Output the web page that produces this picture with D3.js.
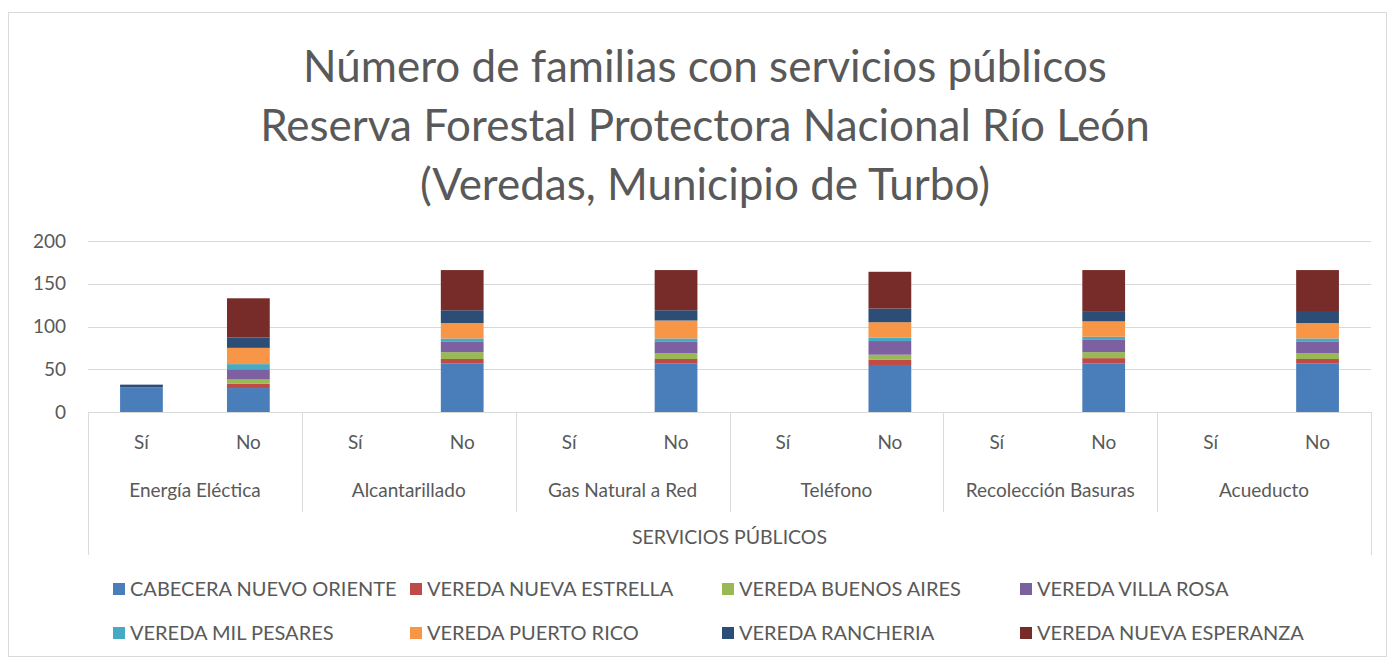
<!DOCTYPE html>
<html><head><meta charset="utf-8">
<script src="https://cdn.jsdelivr.net/npm/d3@7"></script>
<style>body{margin:0;background:#fff;}svg{display:block;font-family:Lato,"Open Sans",sans-serif;}</style>
</head><body>
<svg id="c" width="1390" height="664"></svg>
<script>
const titleLines = ["Número de familias con servicios públicos","Reserva Forestal Protectora Nacional Río León","(Veredas, Municipio de Turbo)"];
const categories = ["Energía Eléctica","Alcantarillado","Gas Natural a Red","Teléfono","Recolección Basuras","Acueducto"];
const answers = ["Sí","No"];
const axisTitle = "SERVICIOS PÚBLICOS";
const yTicks = [0,50,100,150,200];
const seriesNames = ["CABECERA NUEVO ORIENTE","VEREDA NUEVA ESTRELLA","VEREDA BUENOS AIRES","VEREDA VILLA ROSA","VEREDA MIL PESARES","VEREDA PUERTO RICO","VEREDA RANCHERIA","VEREDA NUEVA ESPERANZA"];
const seriesColors = ["#4A7EBB","#BE4B48","#98B954","#7D60A0","#46AAC5","#F79646","#2C4D75","#772C2A"];
// values per series, order: [cat0 Sí, cat0 No, cat1 Sí, cat1 No, ...]
const cabecera       = [29,28, 0,57, 0,57, 0,55, 0,57, 0,57];
const nuevaEstrella  = [0,5,   0,5,  0,5,  0,6,  0,6,  0,5];
const buenosAires    = [0,5,   0,8,  0,7,  0,6,  0,7,  0,7];
const villaRosa      = [0,12,  0,12, 0,13, 0,16, 0,15, 0,13];
const milPesares     = [0,6,   0,4,  0,4,  0,4,  0,3,  0,4];
const puertoRico     = [0,19,  0,18, 0,21, 0,18, 0,18, 0,18];
const rancheria      = [3,12,  0,15, 0,12, 0,16, 0,12, 0,13];
const nuevaEsperanza = [0,46,  0,47, 0,47, 0,43, 0,48, 0,49];
const seriesValues = [cabecera,nuevaEstrella,buenosAires,villaRosa,milPesares,puertoRico,rancheria,nuevaEsperanza];

const svg = d3.select("#c");
const txt = "#595959", grid = "#d9d9d9";

svg.append("rect").attr("x",8.5).attr("y",12.5).attr("width",1378).attr("height",644)
  .attr("fill","#fff").attr("stroke","#d9d9d9");

// title
svg.append("g").selectAll("text").data(titleLines).join("text")
  .attr("x",705).attr("y",(d,i)=>82+i*59).attr("text-anchor","middle")
  .attr("font-size",44).attr("fill",txt).text(d=>d);

const x0 = 88, x1 = 1371;
const rows = [];
categories.forEach((c,ci)=>answers.forEach((a,ai)=>{
  const r = {key:c+"|"+a, cat:c, ans:a};
  seriesNames.forEach((s,si)=>r[s]=seriesValues[si][ci*2+ai]);
  rows.push(r);
}));
const x = d3.scaleBand().domain(rows.map(r=>r.key)).range([x0,x1]).paddingInner(0.6).paddingOuter(0.3);
const xg = d3.scaleBand().domain(categories).range([x0,x1]);
const y = d3.scaleLinear().domain([0,200]).range([412,241]);

// gridlines
svg.append("g").selectAll("line").data(yTicks).join("line")
  .attr("x1",x0).attr("x2",x1).attr("y1",d=>Math.round(y(d))+0.5).attr("y2",d=>Math.round(y(d))+0.5)
  .attr("stroke",grid).attr("stroke-width",1);

// y axis labels
const yAxis = d3.axisLeft(y).tickValues(yTicks).tickSize(0).tickPadding(0);
const ya = svg.append("g").attr("transform","translate(66,0)").call(yAxis);
ya.select(".domain").remove();
ya.selectAll("text").attr("font-size",19).attr("fill",txt).attr("font-family","Lato,sans-serif");

// stacked bars
const stack = d3.stack().keys(seriesNames)(rows);
svg.append("g").selectAll("g").data(stack).join("g")
  .attr("fill",(d,i)=>seriesColors[i])
  .selectAll("rect").data(d=>d).join("rect")
  .attr("x",d=>x(d.data.key)).attr("width",x.bandwidth())
  .attr("y",d=>y(d[1])).attr("height",d=>y(d[0])-y(d[1]));

// category table
const tb = svg.append("g");
tb.append("line").attr("x1",x0).attr("x2",x1).attr("y1",412.5).attr("y2",412.5).attr("stroke",grid);
categories.forEach((c,i)=>{
  const gx = Math.round(xg(c))+0.5;
  tb.append("line").attr("x1",gx).attr("x2",gx).attr("y1",412).attr("y2",i===0?555:512).attr("stroke",grid);
});
tb.append("line").attr("x1",x1+0.5).attr("x2",x1+0.5).attr("y1",412).attr("y2",555).attr("stroke",grid);
tb.selectAll("text.ans").data(rows).join("text").attr("class","ans")
  .attr("x",d=>x(d.key)+x.bandwidth()/2).attr("y",449).attr("text-anchor","middle")
  .attr("font-size",19).attr("fill",txt).text(d=>d.ans);
tb.selectAll("text.cat").data(categories).join("text").attr("class","cat")
  .attr("x",d=>xg(d)+xg.bandwidth()/2).attr("y",497).attr("text-anchor","middle")
  .attr("font-size",19).attr("fill",txt).text(d=>d);
tb.append("text").attr("x",(x0+x1)/2).attr("y",544).attr("text-anchor","middle")
  .attr("font-size",19.5).attr("fill",txt).text(axisTitle);

// legend
const legX = [113,410,722,1020], legY = [589,633];
const lg = svg.append("g").selectAll("g").data(seriesNames).join("g")
  .attr("transform",(d,i)=>`translate(${legX[i%4]},${legY[Math.floor(i/4)]})`);
lg.append("rect").attr("x",0).attr("y",-6).attr("width",12).attr("height",12).attr("fill",(d,i)=>seriesColors[i]);
lg.append("text").attr("x",17).attr("y",7).attr("font-size",20).attr("fill",txt).text(d=>d);
</script>
</body></html>
